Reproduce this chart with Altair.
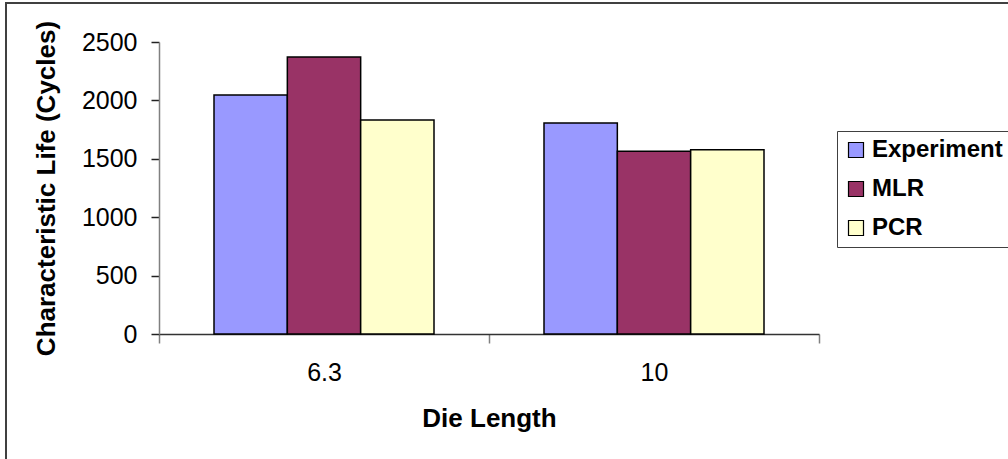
import altair as alt
import pandas as pd

# Characteristic life per die length, measured vs. two regression models
die_length = ["6.3", "10"]
series = ["Experiment", "MLR", "PCR"]
experiment = [2046, 1806]
mlr = [2372, 1564]
pcr = [1832, 1578]
colors = ["#9999FF", "#993366", "#FFFFCC"]
y_ticks = [0, 500, 1000, 1500, 2000, 2500]

rows = []
for name, vals in zip(series, [experiment, mlr, pcr]):
    for d, v in zip(die_length, vals):
        rows.append({"Die Length": d, "Model": name, "Life": v})
df = pd.DataFrame(rows)

FONT = "Liberation Sans"

bars = alt.Chart(df).mark_bar(stroke="black", strokeWidth=1.5).encode(
    x=alt.X(
        "Die Length:N",
        sort=die_length,
        scale=alt.Scale(paddingInner=0, paddingOuter=0),
        axis=alt.Axis(
            title="Die Length",
            labelAngle=0,
            tickBand="extent",
            tickSize=9,
            tickColor="#808080",
            tickWidth=1.5,
            domainColor="#333333",
            domainWidth=1.5,
            labelFont=FONT,
            labelFontSize=25,
            labelColor="black",
            labelBaseline="alphabetic",
            labelPadding=37,
            titleFont=FONT,
            titleFontSize=26,
            titleFontWeight="bold",
            titleColor="black",
            titleBaseline="alphabetic",
            titleX=330,
            titleY=92,
        ),
    ),
    # bars fill the middle two thirds of each die-length band
    xOffset=alt.XOffset(
        "Model:N", sort=series, scale=alt.Scale(paddingInner=0, paddingOuter=0.75)
    ),
    y=alt.Y(
        "Life:Q",
        scale=alt.Scale(domain=[0, 2500], nice=False),
        axis=alt.Axis(
            title="Characteristic Life (Cycles)",
            values=y_ticks,
            format="d",
            grid=False,
            tickSize=8,
            tickColor="#222222",
            tickWidth=1.5,
            domainColor="#808080",
            domainWidth=1.5,
            labelFont=FONT,
            labelFontSize=25,
            labelColor="black",
            labelPadding=14,
            titleFont=FONT,
            titleFontSize=26,
            titleFontWeight="bold",
            titleColor="black",
            titleAngle=-90,
            titleBaseline="middle",
            titleX=-113,
            titleY=146,
        ),
    ),
    color=alt.Color(
        "Model:N",
        sort=series,
        scale=alt.Scale(domain=series, range=colors),
        legend=alt.Legend(
            title=None,
            orient="none",
            legendX=678,
            legendY=89,
            symbolType="square",
            symbolSize=225,
            symbolStrokeColor="black",
            symbolStrokeWidth=1.2,
            symbolOpacity=1,
            labelFont=FONT,
            labelFontSize=24,
            labelFontWeight="bold",
            labelColor="black",
            labelOffset=4,
            padding=7,
            rowPadding=15,
            strokeColor="#404040",
            fillColor="white",
        ),
    ),
)

# outer chart frame
frame = alt.Chart(alt.Data(values=[{}])).mark_rect(
    fill="transparent", stroke="#404040", strokeWidth=2
).encode(
    x=alt.value(-153),
    x2=alt.value(1000),
    y=alt.value(-39),
    y2=alt.value(600),
)

chart = alt.layer(frame, bars).properties(
    width=660,
    height=292,
    autosize=alt.AutoSizeParams(type="none"),
    padding={"left": 159, "top": 42, "right": 189, "bottom": 125},
    background="white",
).configure_view(strokeWidth=0)

chart.save("out.html", embed_options={"renderer": "svg", "actions": False})
